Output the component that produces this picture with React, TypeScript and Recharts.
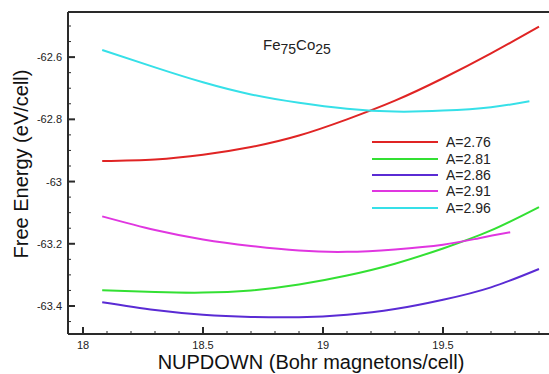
import React from 'react';
import { LineChart, Line, XAxis, YAxis, ReferenceLine } from 'recharts';

// NUPDOWN samples and free energies, one pair of arrays per lattice constant
const xA276 = [18.08, 18.3, 18.5, 18.7, 18.9, 19.1, 19.3, 19.5, 19.7, 19.9];
const yA276 = [-62.934, -62.929, -62.914, -62.889, -62.852, -62.8, -62.74, -62.668, -62.588, -62.502];

const xA281 = [18.08, 18.3, 18.5, 18.7, 18.9, 19.1, 19.3, 19.5, 19.7, 19.9];
const yA281 = [-63.349, -63.355, -63.357, -63.35, -63.331, -63.302, -63.264, -63.215, -63.157, -63.082];

const xA286 = [18.08, 18.3, 18.5, 18.7, 18.9, 19.1, 19.3, 19.5, 19.7, 19.9];
const yA286 = [-63.388, -63.413, -63.428, -63.435, -63.436, -63.428, -63.41, -63.38, -63.34, -63.281];

const xA291 = [18.08, 18.3, 18.5, 18.7, 18.9, 19.1, 19.3, 19.5, 19.65, 19.78];
const yA291 = [-63.112, -63.156, -63.186, -63.207, -63.222, -63.226, -63.218, -63.203, -63.182, -63.163];

const xA296 = [18.08, 18.3, 18.5, 18.7, 18.9, 19.1, 19.3, 19.5, 19.7, 19.86];
const yA296 = [-62.577, -62.633, -62.681, -62.72, -62.747, -62.766, -62.775, -62.772, -62.761, -62.742];

const xTicksMajor = [18, 18.5, 19, 19.5];
const xTicksMinor = [18.1, 18.2, 18.3, 18.4, 18.6, 18.7, 18.8, 18.9, 19.1, 19.2, 19.3, 19.4, 19.6, 19.7, 19.8, 19.9];
const yTicksMajor = [-63.4, -63.2, -63, -62.8, -62.6];
const yTicksMinor = [-63.45, -63.35, -63.3, -63.25, -63.15, -63.1, -63.05, -62.95, -62.9, -62.85, -62.75, -62.7, -62.65, -62.55, -62.5];

const series = [
  { name: 'A=2.76', x: xA276, y: yA276, color: '#e02424' },
  { name: 'A=2.81', x: xA281, y: yA281, color: '#33e033' },
  { name: 'A=2.86', x: xA286, y: yA286, color: '#5a2bd4' },
  { name: 'A=2.91', x: xA291, y: yA291, color: '#e036e0' },
  { name: 'A=2.96', x: xA296, y: yA296, color: '#36e0e8' },
];

const FONT = '"Liberation Sans", Arial, Helvetica, sans-serif';
const AXIS = '#2a2a2a';

function XTick({ x, y, payload }: any) {
  const major = xTicksMajor.includes(payload.value);
  return (
    <g>
      <line x1={x} x2={x} y1={y} y2={y - (major ? 7 : 3)} stroke={AXIS} strokeWidth={major ? 2 : 1} />
      {major && (
        <text x={x} y={y + 15} textAnchor="middle" fontSize={11} fontFamily={FONT} fill="#222">
          {payload.value}
        </text>
      )}
    </g>
  );
}

function YTick({ x, y, payload }: any) {
  const major = yTicksMajor.includes(payload.value);
  return (
    <g>
      <line x1={x} x2={x + (major ? 7 : 3)} y1={y} y2={y} stroke={AXIS} strokeWidth={major ? 2 : 1} />
      {major && (
        <text x={x - 6} y={y + 4} textAnchor="end" fontSize={11} fontFamily={FONT} fill="#222">
          {payload.value}
        </text>
      )}
    </g>
  );
}

export default function App() {
  const tables = series.map((s) => ({
    ...s,
    data: s.x.map((n, i) => ({ nupdown: n, energy: s.y[i] })),
  }));

  return (
    <div style={{ position: 'absolute', left: 0, top: 0, width: 549, height: 374, overflow: 'hidden', background: '#fff' }}>
      <LineChart width={560} height={374} margin={{ top: 12, right: 9, bottom: 0, left: 0 }}>
        <XAxis
          dataKey="nupdown"
          type="number"
          domain={[17.9375, 19.95]}
          allowDataOverflow
          ticks={[...xTicksMajor, ...xTicksMinor]}
          interval={0}
          height={40}
          tickSize={0}
          tickMargin={0}
          tickLine={false}
          axisLine={{ stroke: AXIS, strokeWidth: 2 }}
          tick={<XTick />}
          label={{
            content: () => (
              <text x={311} y={369} textAnchor="middle" fontSize={20} fontFamily={FONT} fill="#111">
                NUPDOWN (Bohr magnetons/cell)
              </text>
            ),
          }}
        />
        <YAxis
          type="number"
          domain={[-63.49, -62.455]}
          allowDataOverflow
          ticks={[...yTicksMajor, ...yTicksMinor]}
          interval={0}
          width={68}
          tickSize={0}
          tickMargin={0}
          tickLine={false}
          axisLine={{ stroke: AXIS, strokeWidth: 2 }}
          tick={<YTick />}
          label={{
            content: () => (
              <text x={28} y={164} transform="rotate(-90 28 164)" textAnchor="middle" fontSize={20} fontFamily={FONT} fill="#111">
                Free Energy (eV/cell)
              </text>
            ),
          }}
        />
        <ReferenceLine y={-62.455} stroke={AXIS} strokeWidth={2} ifOverflow="visible" />
        {tables.map((s) => (
          <Line
            key={s.name}
            data={s.data}
            dataKey="energy"
            name={s.name}
            type="natural"
            stroke={s.color}
            strokeWidth={2}
            dot={false}
            isAnimationActive={false}
          />
        ))}
      </LineChart>

      {/* composition annotation */}
      <div style={{ position: 'absolute', left: 263, top: 36, fontFamily: FONT, fontSize: 15, color: '#222', whiteSpace: 'nowrap' }}>
        Fe<sub style={{ fontSize: 14 }}>75</sub>Co<sub style={{ fontSize: 14 }}>25</sub>
      </div>

      {/* legend */}
      <div style={{ position: 'absolute', left: 372, top: 134, fontFamily: FONT, fontSize: 14, color: '#222' }}>
        {series.map((s) => (
          <div key={s.name} style={{ display: 'flex', alignItems: 'center', height: 16.4 }}>
            <div style={{ width: 66, height: 2, background: s.color, marginRight: 8 }} />
            <span>{s.name}</span>
          </div>
        ))}
      </div>
    </div>
  );
}
